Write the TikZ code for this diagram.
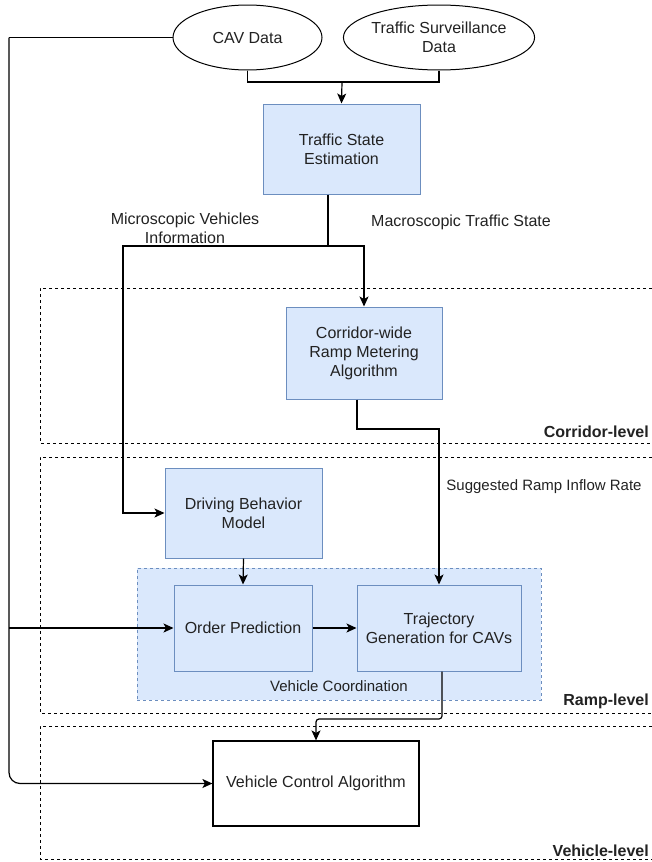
\documentclass[tikz,border=0pt]{standalone}
\usepackage{fontspec}
\setmainfont{Liberation Sans}
\usetikzlibrary{arrows.meta,shapes.geometric}
\definecolor{bfill}{HTML}{DAE8FC}
\definecolor{bstroke}{HTML}{6C8EBF}
\definecolor{txt}{HTML}{222222}
\begin{document}
\begin{tikzpicture}[x=1pt,y=-1pt,
  every node/.style={text=txt, font=\fontsize{16}{19}\selectfont, inner sep=0pt},
  bluebox/.style={draw=bstroke, fill=bfill, line width=1pt, align=center},
  plainbox/.style={draw=black, fill=white, line width=1.2pt, align=center},
  oval/.style={ellipse, draw=black, fill=white, line width=1pt, align=center},
  wire/.style={draw=black, line width=1.2pt},
  arr/.style={wire, -{Stealth[length=10pt,width=9pt,inset=2.5pt]}},
  level/.style={draw=black, line width=0.9pt, dash pattern=on 3pt off 3pt},
  lvllabel/.style={anchor=base east, font=\bfseries\fontsize{16}{19}\selectfont},
  small/.style={font=\fontsize{15}{18}\selectfont}
]
\useasboundingbox (0,0) rectangle (652,862);

% level frames
\draw[level] (652,288) -| (40,443) -- (652,443);
\draw[level] (652,457) -| (40,713) -- (652,713);
\draw[level] (652,726) -| (40,859) -- (652,859);
\node[lvllabel] (lcor) at (649,437) {Corridor-level};
\node[lvllabel] (lramp) at (649,705) {Ramp-level};
\node[lvllabel] (lveh) at (649,856) {Vehicle-level};

% vehicle coordination group
\node[fill=bfill, draw=bstroke, line width=0.9pt, dash pattern=on 3pt off 3pt,
      minimum width=404pt, minimum height=132pt] (vc) at (339,634) {};
\node[small] (vclab) at (339,686) {Vehicle Coordination};

% nodes
\node[oval, minimum width=149pt, minimum height=65pt] (cav) at (247.5,37.5) {CAV Data};
\node[oval, minimum width=184pt, minimum height=65pt] (tsd) at (439,37.5) {Traffic Surveillance\\Data};
\node[bluebox, minimum width=157pt, minimum height=90pt] (tse) at (341.5,149) {Traffic State\\Estimation};
\node[bluebox, minimum width=156pt, minimum height=92pt] (crw) at (364,353) {Corridor-wide\\Ramp Metering\\Algorithm};
\node[bluebox, minimum width=157pt, minimum height=90pt] (dbm) at (243.5,513) {Driving Behavior\\Model};
\node[bluebox, minimum width=138pt, minimum height=86pt] (op) at (243,628) {Order Prediction};
\node[bluebox, minimum width=164pt, minimum height=86pt] (traj) at (439,628) {Trajectory\\Generation for CAVs};
\node[plainbox, minimum width=206pt, minimum height=85pt] (vca) at (316,783.5) {Vehicle Control Algorithm};

% labels
\node (lmicro) at (185,228) [align=center] {Microscopic Vehicles\\Information};
\node (lmacro) at (461,222) {Macroscopic Traffic State};
\node[small] (lsugg) at (544,487) {Suggested Ramp Inflow Rate};

% connectors
\coordinate (j1) at (342,82);
\draw[wire] (cav.south) |- (j1) -| (tsd.south);
\draw[arr] (j1) -- (tse.north);

\coordinate (j2) at (328,246);
\coordinate (jl) at (123,246);
\draw[wire] (tse.south -| j2) -- (j2);
\draw[arr] (j2) -| (crw.north);
\draw[arr] (j2) -- (jl) |- (dbm.west);

\coordinate (j3) at (357,429);
\draw[arr] (crw.south -| j3) -- (j3) -| (traj.north);

\draw[arr] (dbm.south) -- (op.north);
\draw[arr] (op.east) -- (traj.west);

\coordinate (lt) at (9,37.5);
\draw[wire] (cav.west) -- (lt);
\draw[arr, rounded corners=11pt] (lt) |- (vca.west);
\draw[arr] (lt |- op.west) -- (op.west);

\coordinate (j4) at (442,719);
\draw[arr, rounded corners=3pt] (traj.south -| j4) -- (j4) -| (vca.north);
\end{tikzpicture}
\end{document}
